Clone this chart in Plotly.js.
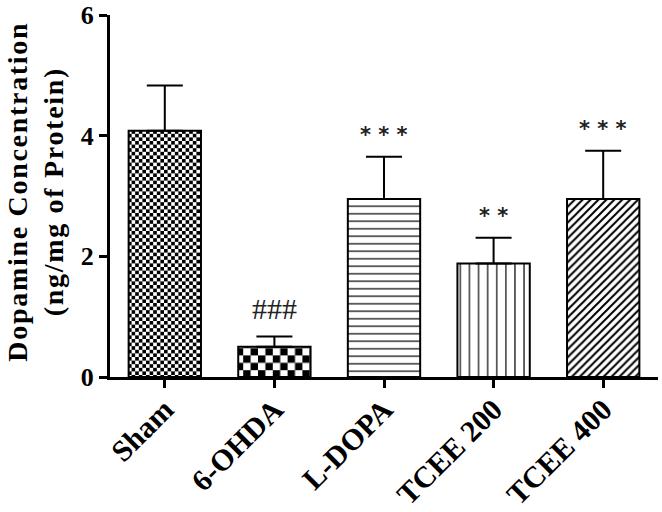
<!DOCTYPE html>
<html>
<head>
<meta charset="utf-8">
<script src="https://cdn.plot.ly/plotly-3.0.1.min.js"></script>
<style>
html, body { margin: 0; padding: 0; background: #fff; }
#chart { width: 662px; height: 512px; }
.annotation[data-index="0"] text { letter-spacing: 1.7px; }
</style>
</head>
<body>
<div id="chart"></div>
<script>
// Data
const categories = ['Sham', '6-OHDA', 'L-DOPA', 'TCEE 200', 'TCEE 400'];
const means = [4.08, 0.50, 2.95, 1.88, 2.95];
const sems = [0.75, 0.17, 0.70, 0.43, 0.80];
const marks = ['', '###', '* * *', '* *', '* * *'];
const yTicks = [0, 2, 4, 6];
const yTitle = 'Dopamine Concentration<br>(ng/mg of Protein)';

// Styles
const patternShapes = ['.', '.', '-', '|', '/'];
const patternSizes = [7.2, 14.8, 7.5, 9.1, 5.6];
const patternSolidity = [0.5, 0.5, 0.16, 0.13, 0.35];
const serif = 'Liberation Serif, Times New Roman, serif';

const trace = {
  type: 'bar',
  x: categories,
  y: means,
  width: 0.66,
  marker: {
    color: '#ffffff',
    line: { color: '#000', width: 2 },
    pattern: {
      shape: patternShapes,
      size: patternSizes,
      solidity: patternSolidity,
      fgcolor: '#000',
      bgcolor: '#fff',
      fillmode: 'replace'
    }
  },
  error_y: {
    type: 'data',
    symmetric: false,
    array: sems,
    arrayminus: sems.map(() => 0),
    color: '#000',
    thickness: 2,
    width: 18
  },
  hoverinfo: 'none'
};

// Y-axis title drawn as a rotated annotation (index 0) so it can be letter-spaced
const annotations = [{
  xref: 'paper', yref: 'paper',
  x: -0.137, y: 0.5,
  xanchor: 'center', yanchor: 'middle',
  yshift: 5,
  textangle: -90,
  showarrow: false,
  text: yTitle,
  font: { family: serif, size: 28, color: '#000', weight: 'bold' }
}].concat(categories.map((c, i) => {
  const hash = marks[i].startsWith('#');
  return {
    x: c,
    y: means[i] + sems[i] + (hash ? 0.47 : 0.36),
    xref: 'x', yref: 'y',
    text: marks[i],
    showarrow: false,
    yanchor: 'middle',
    font: hash
      ? { family: serif, size: 30, color: '#222' }
      : { family: 'DejaVu Sans, sans-serif', size: 21, color: '#222', weight: 'bold' }
  };
}).filter(a => a.text !== ''));

const layout = {
  width: 662,
  height: 512,
  paper_bgcolor: '#fff',
  plot_bgcolor: '#fff',
  margin: { l: 110, r: 4, t: 15, b: 135 },
  showlegend: false,
  xaxis: {
    type: 'category',
    range: [-0.5, 4.5],
    showline: true, linewidth: 3, linecolor: '#000',
    ticks: 'outside', ticklen: 8, tickwidth: 3, tickcolor: '#000',
    tickangle: -45,
    ticklabelstandoff: -8,
    showgrid: false, zeroline: false,
    tickfont: { family: serif, size: 30, color: '#000', weight: 'bold' }
  },
  yaxis: {
    range: [0, 6],
    tickvals: yTicks,
    ticktext: yTicks.map(String),
    showline: true, linewidth: 3, linecolor: '#000',
    ticks: 'outside', ticklen: 8, tickwidth: 3, tickcolor: '#000',
    showgrid: false, zeroline: false,
    tickfont: { family: serif, size: 26, color: '#000', weight: 'bold' }
  },
  annotations: annotations
};

Plotly.newPlot('chart', [trace], layout, { staticPlot: true, displayModeBar: false }).then(gd => {
  // Turn the dot patterns into checkerboards (cell = half the pattern size)
  const NS = 'http://www.w3.org/2000/svg';
  gd.querySelectorAll('pattern').forEach(p => {
    if (!p.querySelector('circle')) return;
    const w = parseFloat(p.getAttribute('width'));
    const c = w / 2;
    while (p.firstChild) p.removeChild(p.firstChild);
    const bg = document.createElementNS(NS, 'rect');
    bg.setAttribute('width', w); bg.setAttribute('height', w); bg.setAttribute('fill', '#fff');
    p.appendChild(bg);
    [[0, 0], [c, c]].forEach(([x, y]) => {
      const r = document.createElementNS(NS, 'rect');
      r.setAttribute('x', x); r.setAttribute('y', y);
      r.setAttribute('width', c); r.setAttribute('height', c);
      r.setAttribute('fill', '#000');
      p.appendChild(r);
    });
  });
});
</script>
</body>
</html>
